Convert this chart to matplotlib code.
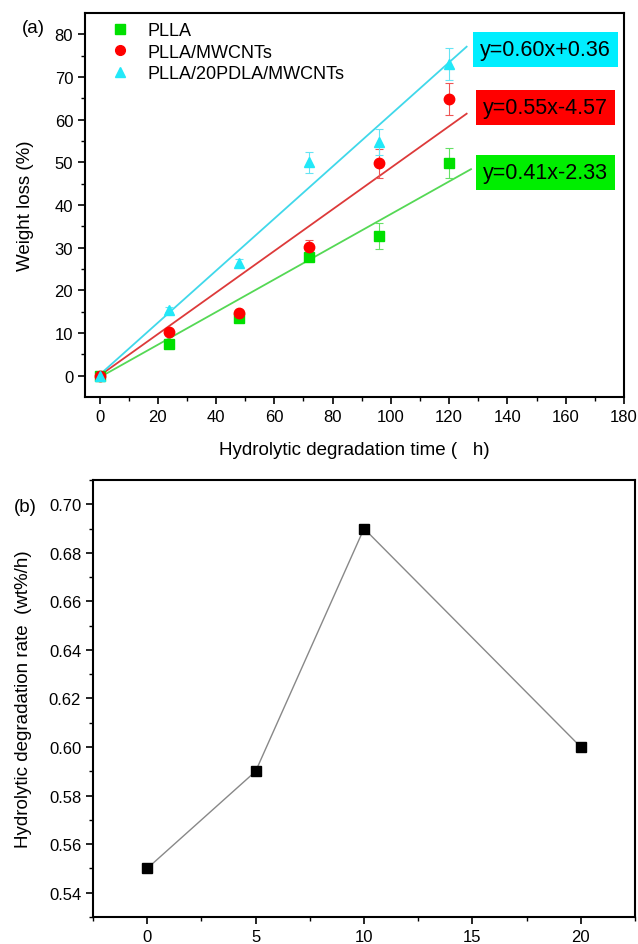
import matplotlib
matplotlib.use("Agg")
import matplotlib.pyplot as plt
from matplotlib.lines import Line2D
import numpy as np

plt.rcParams['font.family'] = ['Liberation Sans', 'DejaVu Sans']

# (a) weight loss vs hydrolytic degradation time
time_h = [0, 24, 48, 72, 96, 120]
series_names = ["PLLA", "PLLA/MWCNTs", "PLLA/20PDLA/MWCNTs"]
pl_la = [0, 7.5, 13.5, 27.8, 32.8, 49.8]
pl_la_err = [0, 0.5, 0.5, 1.0, 3.0, 3.5]
pl_la_mw = [0, 10.2, 14.6, 30.1, 49.8, 64.8]
pl_la_mw_err = [0, 0.5, 0.8, 1.8, 3.4, 3.7]
pl_la_pd = [0, 15.5, 26.4, 50, 54.7, 73.1]
pl_la_pd_err = [0, 0.6, 1.0, 2.4, 3.0, 3.7]
# fitted lines as drawn in the figure (start / end points)
fit_x = [[0, 127.5], [0, 126], [0, 126]]
fit_y = [[-0.4, 48.4], [0.0, 61.4], [0.2, 77.1]]
fit_labels = ["y=0.41x-2.33", "y=0.55x-4.57", "y=0.60x+0.36"]

# (b) degradation rate
pdla_content = [0, 5, 10, 20]
rate = [0.55, 0.59, 0.69, 0.60]

fig = plt.figure(figsize=(6.38, 9.45), dpi=100)

ax1 = fig.add_axes([0.1332, 0.5788, 0.9780 - 0.1332, 0.9852 - 0.5788])
ax2 = fig.add_axes([0.1458, 0.0286, 0.9953 - 0.1458, 0.491 - 0.0286])

marker_cols = ['#00e000', '#ff0000', '#22e8f8']
err_cols = ['#66e066', '#ee5555', '#66e4f4']
line_cols = ['#55d855', '#dd3a3a', '#40d8ea']
box_cols = ['#00ee00', '#ff0000', '#00eeff']
markers = ['s', 'o', '^']
ys = [pl_la, pl_la_mw, pl_la_pd]
errs = [pl_la_err, pl_la_mw_err, pl_la_pd_err]
box_y = [47.7, 62.9, 76.4]

for i in range(3):
    ax1.plot(fit_x[i], fit_y[i], color=line_cols[i], lw=1.3, zorder=2)
handles = []
for i in range(3):
    ax1.errorbar(time_h, ys[i], yerr=errs[i], fmt='none', ecolor=err_cols[i],
                 elinewidth=0.8, capsize=3, capthick=0.8, zorder=3)
    ax1.plot(time_h, ys[i], markers[i], color=marker_cols[i], ms=7.5, zorder=4)
    handles.append(Line2D([], [], ls='none', marker=markers[i], color=marker_cols[i],
                          ms=7, label=series_names[i]))
    ax1.text(153, box_y[i], fit_labels[i], fontsize=15.5, ha='center', va='center',
             bbox=dict(boxstyle='square,pad=0.33', fc=box_cols[i], ec='none'), zorder=5)

ax1.set_xlim(-5, 180)
ax1.set_ylim(-5, 85)
ax1.set_xticks(range(0, 181, 20))
ax1.set_xticks(range(10, 181, 20), minor=True)
ax1.set_yticks(range(0, 81, 10))
ax1.set_yticks(range(5, 81, 10), minor=True)
ax1.set_xlabel("Hydrolytic degradation time (   h)", fontsize=13.5, labelpad=12)
ax1.set_ylabel("Weight loss (%)", fontsize=13.5, labelpad=15)
ax1.legend(handles=handles, loc='upper left', frameon=False, fontsize=13,
           handlelength=1.0, handletextpad=1.0, borderaxespad=0,
           labelspacing=0.25, bbox_to_anchor=(0.035, 0.995))
fig.text(0.035, 0.965, "(a)", fontsize=13.5)

ax2.plot(pdla_content, rate, color='#888888', lw=1.0, marker='s', ms=6.5,
         mfc='black', mec='black')
ax2.set_xlim(-2.5, 22.5)
ax2.set_ylim(0.53, 0.71)
ax2.set_xticks([0, 5, 10, 15, 20])
ax2.set_xticks([-2.5, 2.5, 7.5, 12.5, 17.5, 22.5], minor=True)
ax2.set_yticks(np.arange(0.54, 0.701, 0.02))
ax2.set_yticks(np.arange(0.53, 0.711, 0.02), minor=True)
ax2.yaxis.set_major_formatter(matplotlib.ticker.FormatStrFormatter('%.2f'))
ax2.set_ylabel("Hydrolytic degradation rate  (wt%/h)", fontsize=13.5, labelpad=12)
fig.text(0.022, 0.458, "(b)", fontsize=13.5)

for ax in (ax1, ax2):
    for s in ax.spines.values():
        s.set_linewidth(1.5)
    ax.tick_params(which='major', direction='out', length=5, width=1.2, labelsize=12)
    ax.tick_params(which='minor', direction='out', length=3, width=1.0)

fig.savefig("out.png", dpi=100)
